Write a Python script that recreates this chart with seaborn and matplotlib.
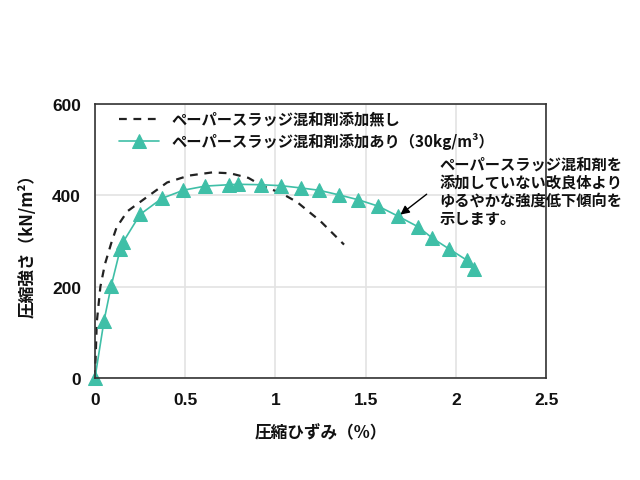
import matplotlib
matplotlib.use("Agg")
import matplotlib.pyplot as plt
import seaborn as sns
import pandas as pd

# Data
strain_none = [0.0, 0.01, 0.03, 0.055, 0.09, 0.12, 0.18, 0.27, 0.40, 0.52, 0.65, 0.75, 0.85, 0.93, 1.03, 1.12, 1.25, 1.38]
stress_none = [0, 122, 200, 249, 295, 330, 365, 391, 428, 443, 450, 448, 438, 420, 405, 385, 343, 292]

strain_add = [0.0, 0.05, 0.09, 0.14, 0.155, 0.25, 0.37, 0.49, 0.61, 0.74, 0.79, 0.92, 1.03, 1.14, 1.24, 1.35, 1.46, 1.57, 1.68, 1.79, 1.87, 1.96, 2.06, 2.10]
stress_add = [0, 125, 202, 282, 297, 358, 393, 411, 420, 423, 424, 423, 421, 416, 411, 401, 390, 376, 354, 331, 306, 283, 258, 238]

label_none = "ペーパースラッジ混和剤添加無し"
label_add = "ペーパースラッジ混和剤添加あり（30kg/m³）"
x_label = "圧縮ひずみ（%）"
y_label = "圧縮強さ（kN/m²）"
x_ticks = [0, 0.5, 1, 1.5, 2, 2.5]
x_ticklabels = ["0", "0.5", "1", "1.5", "2", "2.5"]
y_ticks = [0, 200, 400, 600]
note = "ペーパースラッジ混和剤を\n添加していない改良体より\nゆるやかな強度低下傾向を\n示します。"

sns.set_style("whitegrid")
plt.rcParams['font.family'] = ['Noto Sans CJK JP', 'DejaVu Sans']
plt.rcParams['text.color'] = '#111111'
plt.rcParams['axes.labelcolor'] = '#111111'
plt.rcParams['xtick.color'] = '#111111'
plt.rcParams['ytick.color'] = '#111111'

df_none = pd.DataFrame({"x": strain_none, "y": stress_none})
df_add = pd.DataFrame({"x": strain_add, "y": stress_add})

fig = plt.figure(figsize=(6.4, 4.81), dpi=100)
ax = fig.add_axes([0.1484, 0.212, 0.705, 0.570])

teal = "#3FBFA7"
sns.lineplot(data=df_none, x="x", y="y", ax=ax, color="#222222", linestyle=(0, (3.5, 3)),
             linewidth=1.6, label=label_none, sort=False)
sns.lineplot(data=df_add, x="x", y="y", ax=ax, color=teal, linewidth=1.2,
             marker="^", markersize=10, markeredgecolor=teal, markerfacecolor=teal,
             label=label_add, sort=False)
for ln in ax.get_lines():
    ln.set_clip_on(False)

ax.set_xlim(0, 2.5)
ax.set_ylim(0, 600)
ax.set_xticks(x_ticks)
ax.set_xticklabels(x_ticklabels)
ax.set_yticks(y_ticks)
for lab in ax.get_xticklabels() + ax.get_yticklabels():
    lab.set_fontsize(12.5)
    lab.set_fontweight("bold")
    lab.set_family(['Liberation Sans', 'DejaVu Sans'])
    lab.set_color('#111111')
ax.tick_params(axis="both", length=0, pad=10)
ax.grid(True, color="#e3e3e3", linewidth=1.2)
for s in ax.spines.values():
    s.set_color("#333333")
    s.set_linewidth(1.2)
ax.set_axisbelow(True)

ax.set_xlabel(x_label, fontsize=12, fontweight="bold", labelpad=12, color='#111111')
ax.set_ylabel(y_label, fontsize=12, fontweight="bold", labelpad=11, color='#111111')

leg = ax.legend(loc="upper left", bbox_to_anchor=(0.03, 1.01), frameon=False,
                prop={"size": 11, "weight": "bold", "family": ['Noto Sans CJK JP', 'DejaVu Sans']},
                handlelength=2.6, labelspacing=0.3, borderaxespad=0.3)
for t in leg.get_texts():
    t.set_color('#111111')

ax.annotate("", xy=(1.68, 354), xytext=(1.85, 406),
            arrowprops=dict(arrowstyle="-|>", color="black", lw=1.0, mutation_scale=13))
ax.text(1.91, 487, note, fontsize=11, fontweight="bold", va="top", ha="left",
        linespacing=1.15, color='#111111')

fig.savefig("out.png", dpi=100)
